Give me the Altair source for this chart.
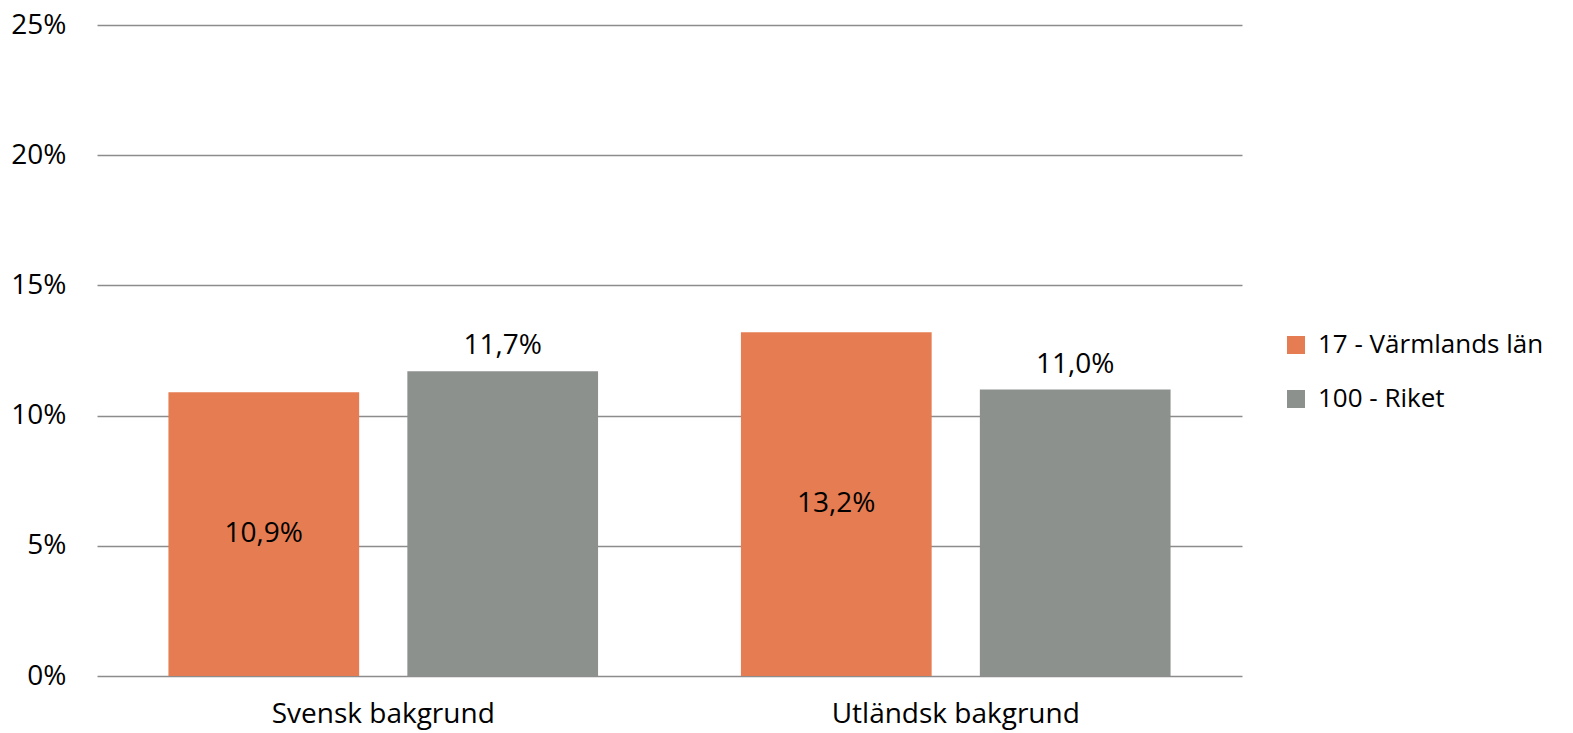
import altair as alt
import pandas as pd

categories = ["Svensk bakgrund", "Utländsk bakgrund"]
series_names = ["17 - Värmlands län", "100 - Riket"]
varmland = [0.109, 0.132]
riket = [0.117, 0.110]
colors = ["#E67C51", "#8C918E"]

rows = []
for i, c in enumerate(categories):
    rows.append({"cat": c, "series": series_names[0], "value": varmland[i]})
    rows.append({"cat": c, "series": series_names[1], "value": riket[i]})
df = pd.DataFrame(rows)

FONT = "Open Sans"
FS = 28

x = alt.X("cat:N", sort=categories, title=None,
          scale=alt.Scale(paddingInner=0, paddingOuter=0),
          axis=alt.Axis(labelAngle=0, labelFontSize=FS, labelFont=FONT, labelColor="#000000",
                        ticks=False, domain=False, labelPadding=24, grid=False, labelLimit=600))
xo = alt.XOffset("series:N", sort=series_names,
                 scale=alt.Scale(paddingInner=0.2017, paddingOuter=0.299))
y = alt.Y("value:Q", title=None,
          scale=alt.Scale(domain=[0, 0.25], nice=False),
          axis=alt.Axis(format=".0%", values=[0, 0.05, 0.10, 0.15, 0.20, 0.25],
                        labelFontSize=FS, labelFont=FONT, labelColor="#000000",
                        ticks=False, domain=False, labelPadding=31,
                        grid=True, gridColor="#8C8C8C", gridWidth=1.5))

base = alt.Chart(df).transform_calculate(
    label="replace(format(datum.value, '.1%'), '.', ',')",
    half="datum.value / 2"
)

bars = base.mark_bar().encode(
    x=x, xOffset=xo, y=y,
    color=alt.Color("series:N", sort=series_names,
                    scale=alt.Scale(domain=series_names, range=colors),
                    legend=alt.Legend(title=None, orient="none", legendX=1186, legendY=307,
                                      symbolType="square", symbolSize=324, symbolStrokeWidth=0,
                                      labelFontSize=26, labelFont=FONT, labelColor="#000000",
                                      rowPadding=28, labelOffset=9, labelLimit=500))
)

inner = base.transform_filter(alt.datum.series == series_names[0]).mark_text(
    font=FONT, fontSize=FS, color="#000000", baseline="middle"
).encode(x=alt.X("cat:N", sort=categories), xOffset=xo, y=alt.Y("half:Q"), text="label:N")

above = base.transform_filter(alt.datum.series == series_names[1]).mark_text(
    font=FONT, fontSize=FS, color="#000000", baseline="alphabetic", dy=-17
).encode(x=alt.X("cat:N", sort=categories), xOffset=xo, y=alt.Y("value:Q"), text="label:N")

chart = alt.layer(bars, inner, above).properties(
    width=1145, height=651,
    autosize=alt.AutoSizeParams(type="none"),
    padding={"left": 89, "top": 17, "right": 320, "bottom": 56},
).configure(background="#ffffff").configure_view(stroke=None)

chart.save("out.html", embed_options={"renderer": "svg", "actions": False})
